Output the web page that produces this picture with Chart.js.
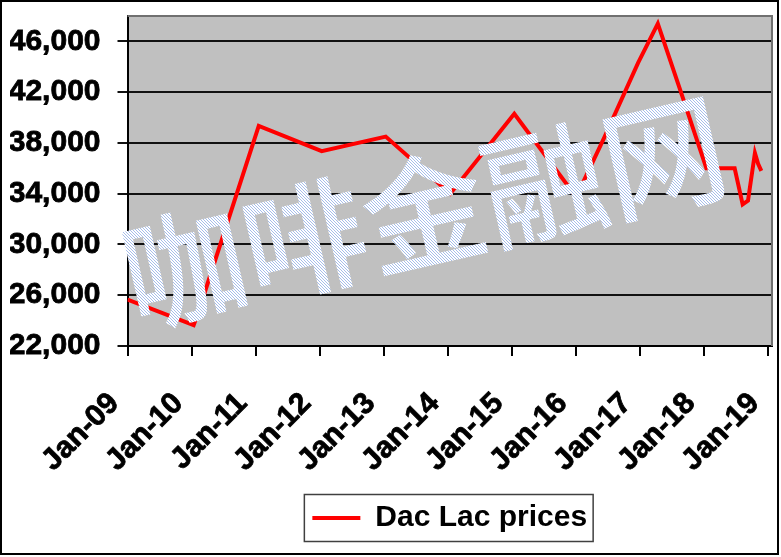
<!DOCTYPE html>
<html>
<head>
<meta charset="utf-8">
<script src="https://cdn.jsdelivr.net/npm/chart.js@4.4.1/dist/chart.umd.min.js"></script>
<style>
  body { margin: 0; background: #fff; }
  #wrap { width: 781px; height: 557px; }
</style>
</head>
<body>
<div id="wrap"><canvas id="priceChart"></canvas></div>
<script>
// months counted from Jan-09, prices
var months = [0, 12.4, 13.3, 24.6, 36.4, 48.4, 60.5, 72.5, 84.1, 89.4, 95.7, 99.4, 103.7, 108.5, 113.8, 115.3, 116.3, 117.6, 118.2, 118.8];
var prices = [25650, 23650, 24700, 39350, 37350, 38500, 34000, 40300, 33750, 38450, 44300, 47400, 42050, 36000, 36000, 33150, 33450, 37200, 36350, 35800];

var xTicks = [0, 12, 24, 36, 48, 60, 72, 84, 96, 108, 120];
var xLabels = ['Jan-09', 'Jan-10', 'Jan-11', 'Jan-12', 'Jan-13', 'Jan-14', 'Jan-15', 'Jan-16', 'Jan-17', 'Jan-18', 'Jan-19'];
var yTicks = [22000, 26000, 30000, 34000, 38000, 42000, 46000];

var seriesName = 'Dac Lac prices';
var watermark = '咖啡金融网';

var labelFont = { family: '"Liberation Sans", Arial, sans-serif', size: 30, weight: 'bold' };

function hatchPattern(ctx) {
  var c = document.createElement('canvas');
  c.width = 3;
  c.height = 3;
  var p = c.getContext('2d');
  p.fillStyle = '#ffffff';
  p.fillRect(0, 0, 3, 3);
  p.fillStyle = '#a6bdea';
  p.fillRect(0, 0, 1, 1);
  p.fillRect(1, 1, 1, 1);
  p.fillRect(2, 2, 1, 1);
  return ctx.createPattern(c, 'repeat');
}

var decorPlugin = {
  id: 'decor',
  beforeDraw: function(chart) {
    var ctx = chart.ctx;
    var a = chart.chartArea;
    ctx.save();
    ctx.fillStyle = '#ffffff';
    ctx.fillRect(0, 0, chart.width, chart.height);
    ctx.fillStyle = '#c0c0c0';
    ctx.fillRect(a.left, a.top, a.right - a.left, a.bottom - a.top);
    ctx.restore();
  },
  beforeDatasetsDraw: function(chart) {
    var ctx = chart.ctx;
    var a = chart.chartArea;
    ctx.save();
    ctx.strokeStyle = '#707070';
    ctx.lineWidth = 2;
    ctx.beginPath();
    ctx.moveTo(a.left, a.top);
    ctx.lineTo(a.right, a.top);
    ctx.lineTo(a.right, a.bottom);
    ctx.stroke();
    ctx.restore();
  },
  afterDatasetsDraw: function(chart) {
    var ctx = chart.ctx;
    ctx.save();
    ctx.translate(424, 212);
    ctx.rotate(-13 * Math.PI / 180);
    var pat = hatchPattern(ctx);
    if (pat.setTransform) {
      pat.setTransform(new DOMMatrix().rotate(13));
    }
    ctx.fillStyle = pat;
    ctx.font = '500 123px "Noto Sans CJK SC"';
    ctx.textAlign = 'center';
    ctx.textBaseline = 'middle';
    ctx.fillText(watermark, 0, 0);
    ctx.restore();
  },
  afterDraw: function(chart) {
    var ctx = chart.ctx;
    var box = chart.legend.legendHitBoxes[0];
    ctx.save();
    ctx.strokeStyle = '#404040';
    ctx.lineWidth = 1.5;
    if (box) {
      ctx.strokeRect(box.left - 8, box.top + box.height / 2 - 23.5, box.width + 14, 47);
    }
    ctx.strokeStyle = '#000000';
    ctx.lineWidth = 2;
    ctx.strokeRect(1, 1, 777, 553);
    ctx.restore();
  }
};

var canvas = document.getElementById('priceChart');
var ctx = canvas.getContext('2d');
new Chart(ctx, {
  type: 'line',
  data: {
    datasets: [
      {
        label: seriesName,
        data: months.map(function(m, i) { return { x: m, y: prices[i] }; }),
        borderColor: '#ff0000',
        backgroundColor: '#ff0000',
        borderWidth: 4,
        pointRadius: 0,
        tension: 0,
        fill: false
      }
    ]
  },
  options: {
    responsive: true,
    maintainAspectRatio: false,
    animation: false,
    layout: {
      padding: { top: 16, right: 9, left: 10, bottom: 14 }
    },
    scales: {
      x: {
        type: 'linear',
        min: 0,
        max: 120.8,
        afterBuildTicks: function(scale) {
          scale.ticks = xTicks.map(function(v) { return { value: v }; });
        },
        afterFit: function(scale) {
          scale.height = 143;
          scale.paddingLeft = 0;
          scale.paddingRight = 0;
        },
        ticks: {
          autoSkip: false,
          maxRotation: 45,
          minRotation: 45,
          padding: 30,
          labelOffset: -13,
          color: '#000',
          textStrokeColor: '#000',
          textStrokeWidth: 0.8,
          font: labelFont,
          callback: function(v, i) { return xLabels[i]; }
        },
        grid: { drawOnChartArea: false, color: '#000', lineWidth: 2, tickLength: 10 },
        border: { color: '#000', width: 2 }
      },
      y: {
        min: 22000,
        max: 48000,
        afterBuildTicks: function(scale) {
          scale.ticks = yTicks.map(function(v) { return { value: v }; });
        },
        afterFit: function(scale) {
          scale.width = 117.5;
          scale.paddingTop = 0;
          scale.paddingBottom = 0;
        },
        ticks: {
          padding: 17,
          color: '#000',
          textStrokeColor: '#000',
          textStrokeWidth: 0.8,
          font: labelFont,
          callback: function(v) { return v.toLocaleString('en-US'); }
        },
        grid: { color: '#111', lineWidth: 2, tickLength: 10 },
        border: { color: '#000', width: 2 }
      }
    },
    plugins: {
      legend: {
        position: 'bottom',
        fullSize: false,
        labels: {
          usePointStyle: true,
          pointStyle: 'line',
          pointStyleWidth: 48,
          padding: 14,
          color: '#000',
          font: labelFont
        }
      },
      tooltip: { enabled: false }
    }
  },
  plugins: [decorPlugin]
});
</script>
</body>
</html>
